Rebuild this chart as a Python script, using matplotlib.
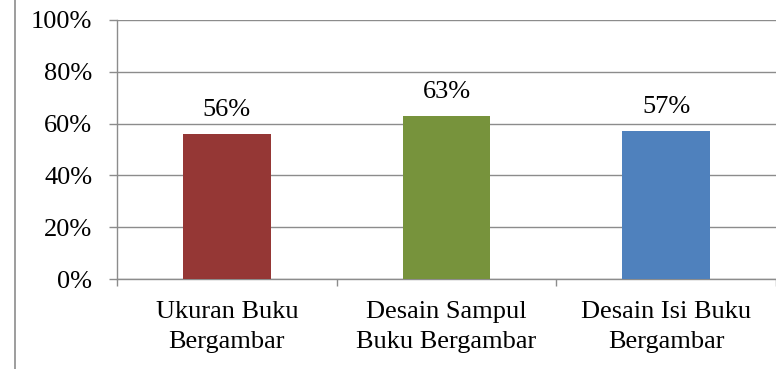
import matplotlib.pyplot as plt
from matplotlib.lines import Line2D
from matplotlib.ticker import FuncFormatter, MultipleLocator

categories = ["Ukuran Buku\nBergambar", "Desain Sampul\nBuku Bergambar", "Desain Isi Buku\nBergambar"]
values = [56, 63, 57]
colors = ["#953735", "#77933C", "#4F81BD"]

plt.rcParams['font.family'] = ['Liberation Serif', 'DejaVu Serif']
grid_color = "#8c8c8c"
fs = 19

fig = plt.figure(figsize=(7.76, 3.69), dpi=100)
ax = fig.add_axes([117 / 776, 90 / 369, 1 - 117 / 776, 259 / 369])

x = range(len(categories))
ax.bar(x, values, width=0.4, color=colors, zorder=3)

for xi, v in zip(x, values):
    ax.text(xi, v + 5, f"{v}%", ha='center', va='bottom', fontsize=fs)

ax.set_xlim(-0.5, len(categories) - 0.5)
ax.set_ylim(0, 100)
ax.yaxis.set_major_locator(MultipleLocator(20))
ax.yaxis.set_major_formatter(FuncFormatter(lambda v, p: f"{v:.0f}%"))
ax.grid(axis='y', color=grid_color, linewidth=1, zorder=0)

# category labels sit between the boundary ticks
ax.set_xticks([i - 0.5 for i in range(len(categories) + 1)])
ax.set_xticklabels([])
ax.set_xticks(list(x), minor=True)
ax.set_xticklabels(categories, minor=True, fontsize=fs, linespacing=1.45)
ax.tick_params(axis='x', which='minor', length=0, pad=16)
ax.tick_params(axis='x', which='major', length=5, color=grid_color, width=1)
ax.tick_params(axis='y', length=5.8, color=grid_color, width=1, labelsize=fs, pad=12)

for side in ['top', 'right']:
    ax.spines[side].set_visible(False)
for side in ['left', 'bottom']:
    ax.spines[side].set_color(grid_color)
    ax.spines[side].set_linewidth(1)
ax.set_axisbelow(True)

# page margin line on the left
fig.add_artist(Line2D([15 / 776, 15 / 776], [0, 1], color=grid_color, linewidth=1.2))

fig.savefig("out.png", dpi=100)
